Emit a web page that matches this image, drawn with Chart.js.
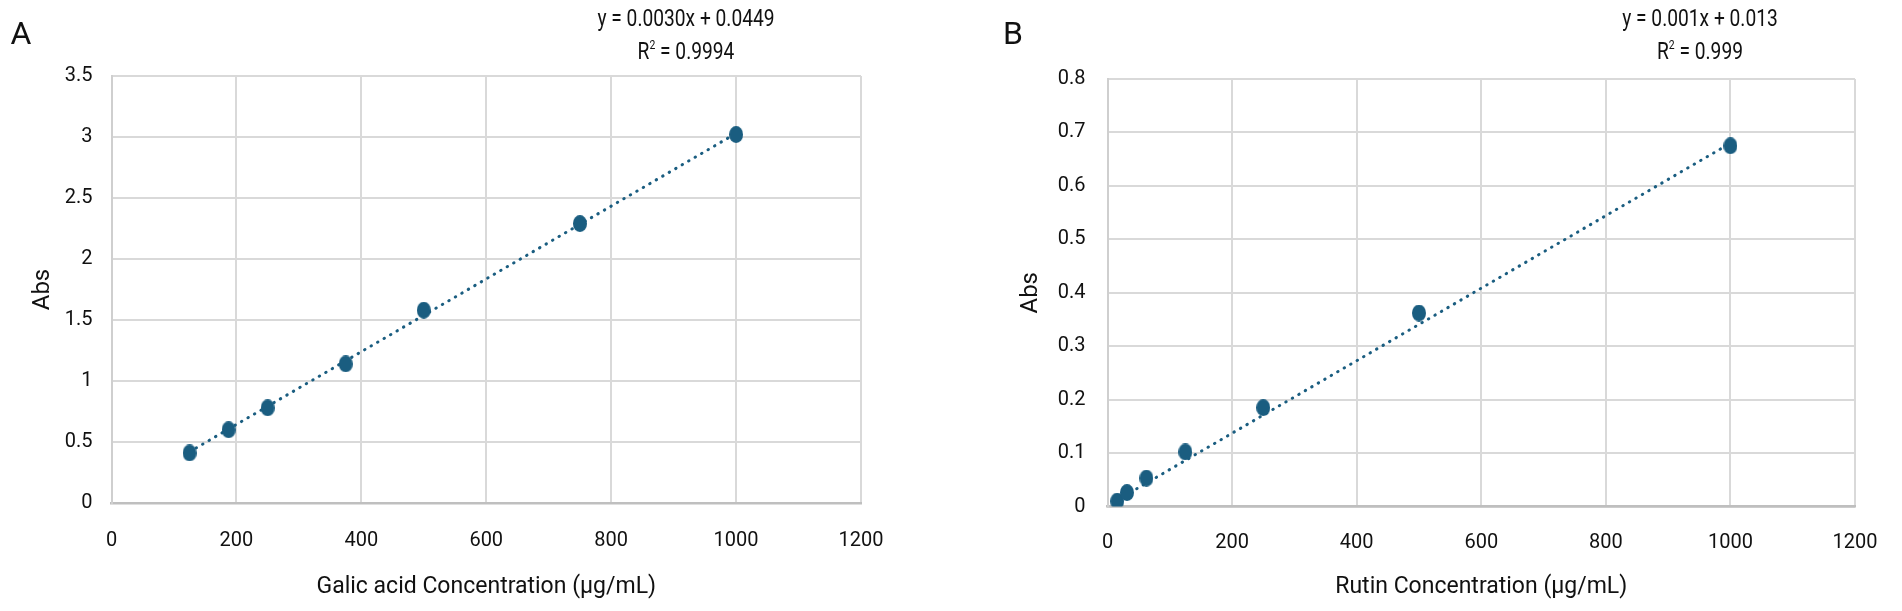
<!DOCTYPE html>
<html>
<head>
<meta charset="utf-8">
<script src="https://cdn.jsdelivr.net/npm/chart.js@4.4.1/dist/chart.umd.min.js"></script>
<style>
  html, body { margin: 0; padding: 0; background: #fff; }
  body { width: 1902px; height: 611px; position: relative; overflow: hidden;
         font-family: Roboto, "Liberation Sans", Arial, sans-serif; color: #111; }
  .panel { position: absolute; top: 0; width: 951px; height: 611px; }
  .lbl { position: absolute; transform: translate(-50%, -50%); white-space: nowrap; line-height: 1; }
  .letter { font-size: 32px; }
  .eq { font-size: 24px; transform: translate(-50%, -50%) scaleX(0.8); }
  .eq sup { font-size: 13px; vertical-align: 10px; }
</style>
</head>
<body>
<div class="panel" style="left:0"><canvas id="chartA" width="951" height="611"></canvas></div>
<div class="panel" style="left:951px"><canvas id="chartB" width="951" height="611"></canvas></div>

<div class="lbl letter" style="left:21px; top:33px">A</div>
<div class="lbl letter" style="left:1013px; top:33px">B</div>
<div class="lbl eq" style="left:686px; top:18px">y = 0.0030x + 0.0449</div>
<div class="lbl eq" style="left:686px; top:50px">R<sup>2</sup> = 0.9994</div>
<div class="lbl eq" style="left:1700px; top:18px">y = 0.001x + 0.013</div>
<div class="lbl eq" style="left:1700px; top:50px">R<sup>2</sup> = 0.999</div>

<script>
// Panel A - gallic acid standard curve
const concA = [125, 187.5, 250, 375, 500, 750, 1000];
const absA = [0.41, 0.60, 0.78, 1.14, 1.58, 2.29, 3.02];
const trendXA = [125, 1000];
const trendYA = [0.42, 3.03];
const xTicksA = [0, 200, 400, 600, 800, 1000, 1200];
const yTicksA = [0, 0.5, 1, 1.5, 2, 2.5, 3, 3.5];

// Panel B - rutin standard curve
const concB = [15.625, 31.25, 62.5, 125, 250, 500, 1000];
const absB = [0.010, 0.026, 0.053, 0.102, 0.185, 0.362, 0.675];
const trendXB = [15.625, 1000];
const trendYB = [0.012, 0.68];
const xTicksB = [0, 200, 400, 600, 800, 1000, 1200];
const yTicksB = [0, 0.1, 0.2, 0.3, 0.4, 0.5, 0.6, 0.7, 0.8];

const teal = "#1a5d80";
const gridGrey = "#d9d9d9";

Chart.defaults.font.family = 'Roboto, "Liberation Sans", Arial, sans-serif';
Chart.defaults.color = "#111";

// slightly tall oval marker, like the source figure
const dot = document.createElement("canvas");
dot.width = 14;
dot.height = 17;
{
  const c = dot.getContext("2d");
  c.fillStyle = teal;
  c.beginPath();
  c.ellipse(7, 8.5, 7, 8.5, 0, 0, Math.PI * 2);
  c.fill();
}

function toPoints(xs, ys) {
  return xs.map((x, i) => ({ x: x, y: ys[i] }));
}

function makeChart(id, cfg) {
  const ctx = document.getElementById(id).getContext("2d");
  return new Chart(ctx, {
    type: "scatter",
    data: {
      datasets: [
        {
          data: toPoints(cfg.xs, cfg.ys),
          pointStyle: dot,
          backgroundColor: teal,
          borderColor: teal,
          pointRadius: 7,
          order: 1
        },
        {
          // dotted linear trendline
          data: toPoints(cfg.tx, cfg.ty),
          showLine: true,
          borderColor: teal,
          borderWidth: 3,
          borderDash: [0.5, 7],
          borderCapStyle: "round",
          pointRadius: 0,
          order: 2
        }
      ]
    },
    options: {
      responsive: false,
      animation: false,
      events: [],
      layout: { padding: cfg.pad },
      plugins: { legend: { display: false }, tooltip: { enabled: false } },
      scales: {
        x: {
          type: "linear",
          min: cfg.xTicks[0],
          max: cfg.xTicks[cfg.xTicks.length - 1],
          afterBuildTicks: s => { s.ticks = cfg.xTicks.map(v => ({ value: v })); },
          afterFit: s => { s.height = cfg.xHeight; },
          ticks: { font: { size: 20 }, padding: cfg.xPad, maxRotation: 0, callback: v => String(v) },
          grid: { color: gridGrey, lineWidth: 2, drawTicks: false },
          border: { color: "#bfbfbf", width: 2.5 },
          title: { display: true, text: cfg.xTitle, font: { size: 23 }, padding: 0 }
        },
        y: {
          type: "linear",
          min: cfg.yTicks[0],
          max: cfg.yTicks[cfg.yTicks.length - 1],
          afterBuildTicks: s => { s.ticks = cfg.yTicks.map(v => ({ value: v })); },
          afterFit: s => { s.width = cfg.yWidth; },
          ticks: { font: { size: 20 }, padding: cfg.yPad, callback: v => String(v) },
          grid: { color: gridGrey, lineWidth: 2, drawTicks: false },
          border: { color: "#cfcfcf", width: 2 },
          title: { display: true, text: "Abs", font: { size: 24 }, padding: { top: 4, bottom: 0 } }
        }
      }
    }
  });
}

// title line height 23*1.2 = 27.6 -> centre at 587 needs scale bottom 600.8
makeChart("chartA", {
  xs: concA, ys: absA, tx: trendXA, ty: trendYA,
  xTicks: xTicksA, yTicks: yTicksA,
  xTitle: "Galic acid Concentration (µg/mL)",
  pad: { left: 24.6, top: 76, right: 90, bottom: 10.2 },
  yWidth: 86.9, xHeight: 97.8, yPad: 19, xPad: 25.5
});

makeChart("chartB", {
  xs: concB, ys: absB, tx: trendXB, ty: trendYB,
  xTicks: xTicksB, yTicks: yTicksB,
  xTitle: "Rutin Concentration (µg/mL)",
  pad: { left: 61.6, top: 79, right: 35, bottom: 10.2 },
  yWidth: 94.9, xHeight: 94.3, yPad: 22, xPad: 24.5
});
</script>
</body>
</html>
